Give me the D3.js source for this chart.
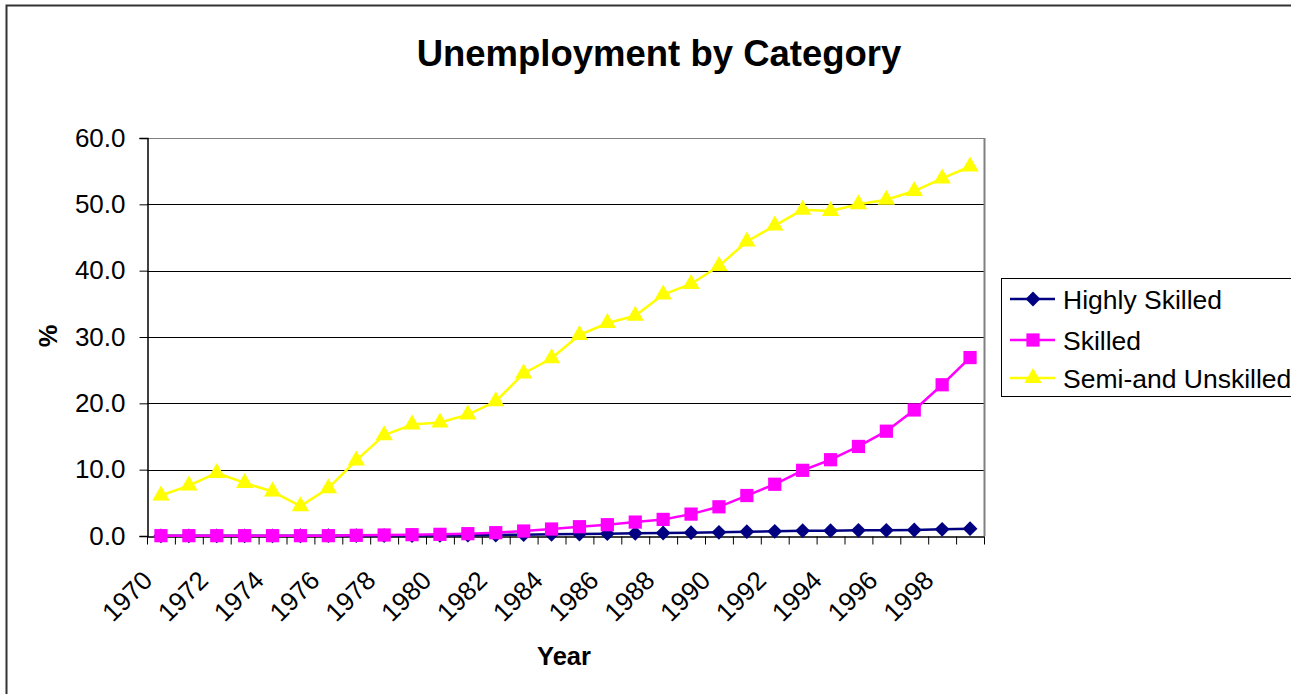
<!DOCTYPE html>
<html>
<head>
<meta charset="utf-8">
<script src="https://cdn.jsdelivr.net/npm/d3@7"></script>
<style>
  html, body { margin: 0; padding: 0; background: #fff; }
  svg { display: block; }
  text { font-family: "Liberation Sans", Arial, sans-serif; }
</style>
</head>
<body>
<svg id="chart" width="1291" height="694"></svg>
<script>
// Unemployment by skill category, 1970-1999 (%)
const years = d3.range(1970, 2000);
const highlySkilled = [0.02, 0.02, 0.03, 0.03, 0.03, 0.04, 0.05, 0.06, 0.07, 0.08, 0.1, 0.12, 0.15, 0.2, 0.25, 0.3, 0.35, 0.4, 0.45, 0.5, 0.55, 0.65, 0.7, 0.8, 0.8, 0.85, 0.85, 0.9, 1.0, 1.1];
const skilled = [0.05, 0.05, 0.05, 0.05, 0.05, 0.05, 0.05, 0.1, 0.15, 0.2, 0.25, 0.35, 0.5, 0.75, 1.05, 1.4, 1.7, 2.1, 2.5, 3.3, 4.4, 6.1, 7.8, 9.9, 11.5, 13.5, 15.8, 19.0, 22.8, 26.9];
const semiUnskilled = [6.1, 7.6, 9.5, 8.0, 6.7, 4.5, 7.2, 11.4, 15.2, 16.8, 17.1, 18.3, 20.3, 24.5, 26.8, 30.3, 32.1, 33.2, 36.4, 38.0, 40.7, 44.4, 46.8, 49.2, 49.0, 50.0, 50.7, 52.0, 53.9, 55.7];
const seriesNames = ["Highly Skilled", "Skilled", "Semi-and Unskilled"];
const yTicks = [0, 10, 20, 30, 40, 50, 60];
const xLabelYears = d3.range(1970, 2000, 2);

const series = [
  { name: seriesNames[0], values: highlySkilled, color: "#000080", marker: d3.symbolDiamond2, size: 140 },
  { name: seriesNames[1], values: skilled, color: "#FF00FF", marker: d3.symbolSquare, size: 175 },
  { name: seriesNames[2], values: semiUnskilled, color: "#FFFF00", marker: d3.symbolTriangle, size: 130 }
];

const svg = d3.select("#chart");
const plot = { left: 147, right: 984, top: 138, bottom: 536 };

// Outer chart frame
svg.append("path")
  .attr("d", "M6.5,694 V5.5 H1291")
  .attr("fill", "none").attr("stroke", "#333").attr("stroke-width", 2);

// Title
svg.append("text")
  .attr("x", 659).attr("y", 66)
  .attr("text-anchor", "middle")
  .attr("font-size", 36.5).attr("font-weight", "bold")
  .text("Unemployment by Category");

const x = d3.scaleLinear().domain([1969.5, 1999.5]).range([plot.left, plot.right]);
const y = d3.scaleLinear().domain([0, 60]).range([plot.bottom, plot.top]);

// Gridlines
svg.append("g")
  .selectAll("line")
  .data(yTicks.filter(t => t > 0))
  .join("line")
  .attr("x1", plot.left).attr("x2", plot.right)
  .attr("y1", d => Math.round(y(d)) + 0.5).attr("y2", d => Math.round(y(d)) + 0.5)
  .attr("stroke", d => d === 60 ? "#808080" : "#000")
  .attr("stroke-width", 1);

// Plot area right edge
svg.append("line")
  .attr("x1", plot.right + 0.5).attr("x2", plot.right + 0.5)
  .attr("y1", plot.top).attr("y2", plot.bottom)
  .attr("stroke", "#808080").attr("stroke-width", 2);

// Y axis
const yAxis = svg.append("g")
  .attr("transform", `translate(${plot.left + 0.5},0)`)
  .call(d3.axisLeft(y).tickValues(yTicks).tickFormat(d3.format(".1f")).tickSize(8).tickPadding(14));
yAxis.select(".domain").attr("stroke", "#000").attr("stroke-width", 1.5);
yAxis.selectAll(".tick line").attr("stroke", "#000");
yAxis.selectAll(".tick text")
  .attr("font-size", 26).attr("fill", "#000")
  .attr("font-family", "Liberation Sans, Arial, sans-serif");

// X axis: tick marks on category boundaries
const boundaries = d3.range(1969.5, 2000, 1);
const xAxis = svg.append("g")
  .attr("transform", `translate(0,${plot.bottom + 0.5})`)
  .call(d3.axisBottom(x).tickValues(boundaries).tickFormat("").tickSize(8).tickSizeOuter(0));
xAxis.select(".domain").attr("stroke", "#000").attr("stroke-width", 1.5);
xAxis.selectAll(".tick line").attr("stroke", "#000");

// Rotated year labels
svg.append("g")
  .selectAll("text")
  .data(xLabelYears)
  .join("text")
  .attr("transform", d => `translate(${x(d) - 7},${plot.bottom + 46}) rotate(-45)`)
  .attr("text-anchor", "end")
  .attr("font-size", 26)
  .text(d => d);

// Axis titles
svg.append("text")
  .attr("x", 564).attr("y", 665)
  .attr("text-anchor", "middle")
  .attr("font-size", 25.5).attr("font-weight", "bold")
  .text("Year");

svg.append("text")
  .attr("transform", "translate(57,336) rotate(-90)")
  .attr("text-anchor", "middle")
  .attr("font-size", 25.5).attr("font-weight", "bold")
  .text("%");

// Series lines and markers
const line = d3.line().x((d, i) => x(years[i])).y(d => y(d));

series.forEach(s => {
  const g = svg.append("g");
  g.append("path")
    .datum(s.values)
    .attr("d", line)
    .attr("fill", "none")
    .attr("stroke", s.color)
    .attr("stroke-width", 2.5)
    .attr("stroke-linejoin", "round");
  g.selectAll("path.mark")
    .data(s.values)
    .join("path")
    .attr("class", "mark")
    .attr("transform", (d, i) => `translate(${x(years[i])},${y(d)})`)
    .attr("d", d3.symbol().type(s.marker).size(s.size))
    .attr("fill", s.color);
});

// Legend
const legend = svg.append("g");
legend.append("rect")
  .attr("x", 1001.5).attr("y", 278.5)
  .attr("width", 320).attr("height", 118)
  .attr("fill", "#fff").attr("stroke", "#000").attr("stroke-width", 1);

const legendRows = [299, 340, 378];
series.forEach((s, i) => {
  const row = legend.append("g").attr("transform", `translate(0,${legendRows[i]})`);
  row.append("line")
    .attr("x1", 1010).attr("x2", 1055)
    .attr("stroke", s.color).attr("stroke-width", 2.5);
  row.append("path")
    .attr("transform", "translate(1033,0)")
    .attr("d", d3.symbol().type(s.marker).size(s.size))
    .attr("fill", s.color);
  row.append("text")
    .attr("x", 1063).attr("y", 9.5)
    .attr("font-size", 26.5)
    .text(s.name);
});
</script>
</body>
</html>
